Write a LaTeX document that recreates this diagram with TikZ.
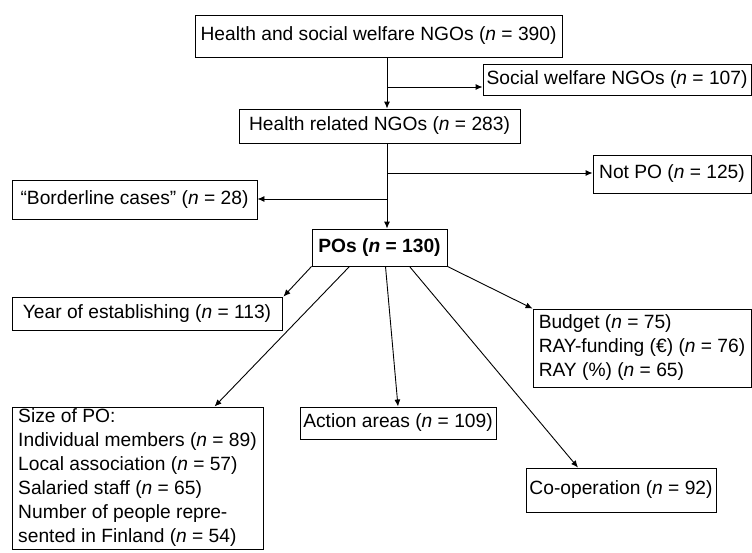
\documentclass[tikz,border=0pt]{standalone}
\usepackage{fontspec}
\setmainfont{Liberation Sans}
\usetikzlibrary{arrows.meta,calc}
\begin{document}
\begin{tikzpicture}[x=1pt,y=-1pt,
  box/.style={draw, line width=0.9pt, inner sep=0pt, font=\fontsize{19.2}{24}\selectfont},
  arr/.style={line width=0.9pt, -{Latex[length=7pt,width=6pt]}}]
\useasboundingbox (0,0) rectangle (752,552);
\node[box, minimum width=367pt, minimum height=42pt] (b1) at (378.5,36) {Health and social welfare NGOs (\textit{n} = 390)};
\node[box, minimum width=268pt, minimum height=31pt] (sw) at (617,79.5) {Social welfare NGOs (\textit{n} = 107)};
\node[box, minimum width=281pt, minimum height=34pt] (b2) at (379.5,126) {Health related NGOs (\textit{n} = 283)};
\node[box, minimum width=158pt, minimum height=38pt] (np) at (672,174) {Not PO (\textit{n} = 125)};
\node[box, minimum width=245pt, minimum height=39pt] (bl) at (134.5,199.5) {“Borderline cases” (\textit{n} = 28)};
\node[box, minimum width=135pt, minimum height=37pt, font=\fontsize{19.2}{24}\selectfont\bfseries] (po) at (379.5,247.5) {POs (\textit{n} = 130)};
\node[box, minimum width=270pt, minimum height=33pt] (yr) at (147,313.5) {Year of establishing (\textit{n} = 113)};
\node[box, minimum width=218pt, minimum height=78pt, align=left] (bu) at (642,348) {Budget (\textit{n} = 75)\\RAY-funding (€) (\textit{n} = 76)\\RAY (\%) (\textit{n} = 65)};
\node[box, minimum width=251pt, minimum height=142pt, align=left] (sz) at (137.5,478) {Size of PO:\\Individual members (\textit{n} = 89)\\Local association (\textit{n} = 57)\\Salaried staff (\textit{n} = 65)\\Number of people repre-\\sented in Finland (\textit{n} = 54)};
\node[box, minimum width=196pt, minimum height=32pt] (ac) at (398,423) {Action areas (\textit{n} = 109)};
\node[box, minimum width=190pt, minimum height=44pt] (co) at (621,490) {Co-operation (\textit{n} = 92)};
% flow
\coordinate (j1) at (387,87);
\coordinate (j2) at (387,173);
\coordinate (j3) at (387,199);
\draw[arr] (b1.south -| j1) -- (b2.north -| j1);
\draw[arr] (j1) -- (j1 -| sw.west);
\draw[arr] (b2.south -| j2) -- (po.north -| j2);
\draw[arr] (j2) -- (j2 -| np.west);
\draw[arr] (j3) -- (j3 -| bl.east);
% POs branches
\draw[arr] (po.south west) -- ([xshift=1pt]yr.north east);
\draw[arr] ([xshift=-30pt]po.south) -- ([xshift=203pt]sz.north west);
\draw[arr] ([xshift=6pt]po.south) -- (ac.north);
\draw[arr] ([xshift=30pt]po.south) -- ([xshift=-43pt]co.north);
\draw[arr] (po.south east) -- (bu.north west);
\end{tikzpicture}
\end{document}
